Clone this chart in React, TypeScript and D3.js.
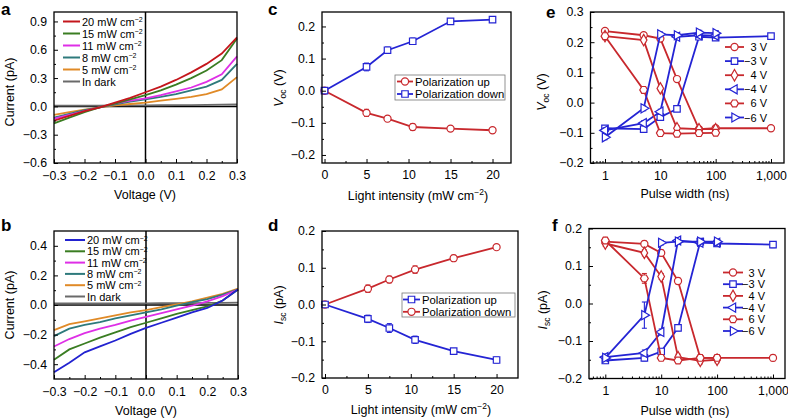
import React, { useEffect, useRef } from 'react'
import * as d3 from 'd3'

const FONT = '"Liberation Sans", Arial, Helvetica, sans-serif'
const RED = '#c8282d'
const BLUE = '#2424d4'

// ---- a, b : I-V curves ----
const voltage = [-0.3, -0.25, -0.2, -0.15, -0.1, -0.05, 0, 0.05, 0.1, 0.15, 0.2, 0.25, 0.3]
const ivLabels = ['20 mW cm', '15 mW cm', '11 mW cm', '8 mW cm', '5 mW cm', 'In dark']

const aI20 = [-0.15, -0.1, -0.05, -0.01, 0.04, 0.09, 0.15, 0.21, 0.28, 0.36, 0.45, 0.56, 0.73]
const aI15 = [-0.18, -0.12, -0.06, -0.01, 0.03, 0.075, 0.12, 0.17, 0.23, 0.3, 0.38, 0.49, 0.72]
const aI11 = [-0.13, -0.09, -0.05, -0.01, 0.03, 0.06, 0.085, 0.12, 0.16, 0.2, 0.26, 0.34, 0.53]
const aI8 = [-0.12, -0.08, -0.04, -0.01, 0.02, 0.05, 0.075, 0.1, 0.13, 0.17, 0.21, 0.28, 0.45]
const aI5 = [-0.09, -0.06, -0.035, -0.01, 0.01, 0.025, 0.04, 0.06, 0.08, 0.1, 0.13, 0.18, 0.31]
const aDark = [0.008, 0.008, 0.009, 0.009, 0.01, 0.01, 0.011, 0.012, 0.013, 0.014, 0.016, 0.018, 0.02]
const colorsA = ['#c4161c', '#3a7d22', '#de2fe6', '#2e7a7c', '#e08a27', '#6a6a6a']

const bI20 = [-0.455, -0.39, -0.32, -0.28, -0.24, -0.195, -0.155, -0.12, -0.085, -0.05, -0.02, 0.03, 0.105]
const bI15 = [-0.37, -0.3, -0.26, -0.22, -0.185, -0.15, -0.12, -0.09, -0.06, -0.035, -0.01, 0.03, 0.105]
const bI11 = [-0.28, -0.23, -0.19, -0.16, -0.135, -0.105, -0.08, -0.055, -0.03, -0.005, 0.025, 0.06, 0.105]
const bI8 = [-0.21, -0.16, -0.135, -0.115, -0.09, -0.07, -0.05, -0.03, -0.005, 0.02, 0.04, 0.07, 0.105]
const bI5 = [-0.17, -0.13, -0.11, -0.09, -0.07, -0.05, -0.035, -0.015, 0.005, 0.025, 0.05, 0.075, 0.11]
const bDark = [0.01, 0.01, 0.01, 0.01, 0.01, 0.011, 0.011, 0.012, 0.012, 0.013, 0.014, 0.015, 0.016]
const colorsB = ['#2222d0', '#3a7d22', '#de2fe6', '#2e7a7c', '#e08a27', '#6a6a6a']

// ---- c, d : vs light intensity ----
const intensity = [0, 5, 7.5, 10.5, 15, 20]
const vocUp = [0, -0.069, -0.087, -0.113, -0.118, -0.123]
const vocUpErr = [0.004, 0.011, 0.009, 0.01, 0.008, 0.008]
const vocDown = [0, 0.074, 0.126, 0.154, 0.216, 0.221]
const vocDownErr = [0.004, 0.012, 0.01, 0.01, 0.007, 0.005]
const iscUp = [0, -0.039, -0.064, -0.096, -0.127, -0.151]
const iscUpErr = [0.003, 0.01, 0.012, 0.01, 0.007, 0.008]
const iscDown = [0, 0.043, 0.068, 0.095, 0.126, 0.156]
const iscDownErr = [0.003, 0.01, 0.009, 0.01, 0.008, 0.005]

// ---- e, f : vs pulse width ----
const pulse = [1, 5, 10, 20, 50, 100, 1000]
const pulseLabels = ['3 V', '\u22123 V', '4 V', '\u22124 V', '6 V', '\u22126 V']
const pulseMarkers = ['circle', 'square', 'diamond', 'triLeft', 'hexagon', 'triRight']
const voc3 = [0.237, 0.223, 0.212, 0.078, -0.088, -0.085, -0.085]
const vocN3 = [-0.085, -0.088, -0.048, -0.021, 0.218, 0.215, 0.22]
const voc4 = [0.22, 0.207, 0.047, -0.085, -0.088, -0.088]
const vocN4 = [-0.092, -0.068, -0.03, 0.218, 0.223, 0.222]
const voc6 = [0.22, 0.042, -0.101, -0.103, -0.101, -0.1]
const vocN6 = [-0.115, -0.019, 0.226, 0.223, 0.232, 0.23]
const isc3 = [0.165, 0.159, 0.135, 0.06, -0.145, -0.145, -0.145]
const iscN3 = [-0.152, -0.145, -0.128, -0.065, 0.165, 0.16, 0.157]
const isc4 = [0.16, 0.135, 0.072, -0.143, -0.153, -0.15]
const iscN4 = [-0.143, -0.132, -0.076, 0.168, 0.162, 0.162]
const isc6 = [0.168, 0.067, -0.145, -0.152, -0.145, -0.145]
const iscN6 = [-0.145, -0.031, 0.162, 0.165, 0.165, 0.165]
const isc6Err = [0.008, 0.013, 0.006, 0.006, 0.006, 0.006]
const iscN6Err = [0.006, 0.035, 0.006, 0.006, 0.006, 0.006]
const pulseErr = 0.008

const hexagon = {
  draw(ctx: any, size: number) {
    const r = Math.sqrt(size / 2.598)
    for (let i = 0; i < 6; i++) {
      const a = (Math.PI / 3) * i
      if (i === 0) ctx.moveTo(r * Math.cos(a), r * Math.sin(a))
      else ctx.lineTo(r * Math.cos(a), r * Math.sin(a))
    }
    ctx.closePath()
  },
}

function marker(g: any, type: string, cx: number, cy: number, color: string) {
  let sym: any = d3.symbolCircle
  let size = 40
  let rot = 0
  if (type === 'square') { sym = d3.symbolSquare; size = 42 }
  if (type === 'diamond') { sym = d3.symbolDiamond; size = 38 }
  if (type === 'triLeft') { sym = d3.symbolTriangle; size = 36; rot = -90 }
  if (type === 'triRight') { sym = d3.symbolTriangle; size = 36; rot = 90 }
  if (type === 'hexagon') { sym = hexagon; size = 40 }
  g.append('path')
    .attr('d', d3.symbol(sym, size)())
    .attr('transform', `translate(${cx},${cy}) rotate(${rot})`)
    .attr('fill', 'white')
    .attr('stroke', color)
    .attr('stroke-width', 1.2)
}

function axes(g: any, x: any, y: any, o: any) {
  const [yb, yt] = y.range()
  const [xl, xr] = x.range()
  const style = (s: any) => {
    s.select('.domain').remove()
    s.attr('font-size', 12.3).attr('font-family', FONT)
  }
  g.append('g').attr('transform', `translate(0,${yb})`)
    .call(d3.axisBottom(x).tickValues(o.xMinor).tickSize(-2).tickFormat(() => ''))
    .call(style)
  g.append('g').attr('transform', `translate(0,${yb})`)
    .call(d3.axisBottom(x).tickValues(o.xTicks).tickSize(-4).tickPadding(o.xPad).tickFormat(o.xFormat))
    .call(style)
  g.append('g').attr('transform', `translate(${xl},0)`)
    .call(d3.axisLeft(y).tickValues(o.yMinor).tickSize(-2).tickFormat(() => ''))
    .call(style)
  g.append('g').attr('transform', `translate(${xl},0)`)
    .call(d3.axisLeft(y).tickValues(o.yTicks).tickSize(-4).tickPadding(7).tickFormat(o.yFormat))
    .call(style)
  g.append('rect')
    .attr('x', xl).attr('y', yt).attr('width', xr - xl).attr('height', yb - yt)
    .attr('fill', 'none').attr('stroke', 'black').attr('stroke-width', 1.3)
}

function xTitle(g: any, cx: number, by: number, main: string, sup?: string, tail?: string) {
  const t = g.append('text').attr('x', cx).attr('y', by).attr('text-anchor', 'middle')
    .attr('font-size', 12.5).attr('font-family', FONT)
  t.append('tspan').text(main)
  if (sup) {
    t.append('tspan').attr('dy', -5).attr('font-size', 8.5).text(sup)
    t.append('tspan').attr('dy', 5).text(tail)
  }
}

function yTitle(g: any, x: number, cy: number, parts: any[]) {
  const t = g.append('text').attr('transform', `translate(${x},${cy}) rotate(-90)`)
    .attr('text-anchor', 'middle').attr('font-size', 12.5).attr('font-family', FONT)
  parts.forEach((p) => {
    const s = t.append('tspan').text(p.text)
    if (p.italic) s.attr('font-style', 'italic')
    if (p.sub) s.attr('font-size', 8.5).attr('dy', 3)
    if (p.back) s.attr('dy', -3)
  })
}

function letter(g: any, x: number, y: number, s: string) {
  g.append('text').attr('x', x).attr('y', y).attr('font-size', 17).attr('font-weight', 'bold')
    .attr('font-family', FONT).text(s)
}

function lineOf(x: any, y: any) {
  return d3.line<[number, number]>().x((d) => x(d[0])).y((d) => y(d[1]))
}

function ivPanel(g: any, x: any, y: any, sets: number[][], colors: string[], leg: any) {
  g.append('line').attr('x1', x(0)).attr('x2', x(0)).attr('y1', y.range()[0]).attr('y2', y.range()[1])
    .attr('stroke', 'black').attr('stroke-width', 1.5)
  g.append('line').attr('x1', x.range()[0]).attr('x2', x.range()[1]).attr('y1', y(0)).attr('y2', y(0))
    .attr('stroke', 'black').attr('stroke-width', 1.5)
  sets.slice().reverse().forEach((vals, j) => {
    const i = sets.length - 1 - j
    g.append('path').datum(vals.map((v, k) => [voltage[k], v]))
      .attr('d', lineOf(x, y)).attr('fill', 'none').attr('stroke', colors[i]).attr('stroke-width', 1.8)
  })
  ivLabels.forEach((lab, i) => {
    const yy = leg.y0 + i * leg.dy
    g.append('line').attr('x1', leg.x0).attr('x2', leg.x1).attr('y1', yy).attr('y2', yy)
      .attr('stroke', colors[i]).attr('stroke-width', 2)
    const t = g.append('text').attr('x', leg.x1 + 2).attr('y', yy + 4).attr('font-size', 11).attr('font-family', FONT)
    t.append('tspan').text(lab)
    if (i < 5) t.append('tspan').attr('dy', -3.5).attr('font-size', 7).text('\u22122')
  })
}

function errorMarks(g: any, x: any, y: any, xs: number[], ys: number[], err: any, color: string, type: string) {
  g.append('path').datum(ys.map((v, k) => [xs[k], v]))
    .attr('d', lineOf(x, y)).attr('fill', 'none').attr('stroke', color).attr('stroke-width', 1.8)
  ys.forEach((v, k) => {
    const e = typeof err === 'number' ? err : err[k]
    const cx = x(xs[k])
    g.append('line').attr('x1', cx).attr('x2', cx).attr('y1', y(v - e)).attr('y2', y(v + e))
      .attr('stroke', color).attr('stroke-width', 1.1)
    ;[v - e, v + e].forEach((w) => {
      g.append('line').attr('x1', cx - 2.5).attr('x2', cx + 2.5).attr('y1', y(w)).attr('y2', y(w))
        .attr('stroke', color).attr('stroke-width', 1.1)
    })
  })
  ys.forEach((v, k) => marker(g, type, x(xs[k]), y(v), color))
}

function boxLegend(g: any, box: any, rows: any[]) {
  g.append('rect').attr('x', box.x).attr('y', box.y).attr('width', box.w).attr('height', box.h)
    .attr('fill', 'white').attr('stroke', '#777').attr('stroke-width', 0.8)
  rows.forEach((r, i) => {
    const yy = box.r0 + i * box.dy
    g.append('line').attr('x1', box.lx0).attr('x2', box.lx1).attr('y1', yy).attr('y2', yy)
      .attr('stroke', r.color).attr('stroke-width', 1.8)
    marker(g, r.type, (box.lx0 + box.lx1) / 2, yy, r.color)
    g.append('text').attr('x', box.lx1 + 2).attr('y', yy + 4).attr('font-size', 11.3)
      .attr('font-family', FONT).text(r.label)
  })
}

function pulseLegend(g: any, leg: any) {
  pulseLabels.forEach((lab, i) => {
    const yy = leg.y0 + i * leg.dy
    const c = i % 2 === 0 ? RED : BLUE
    g.append('line').attr('x1', leg.x0).attr('x2', leg.x1).attr('y1', yy).attr('y2', yy)
      .attr('stroke', c).attr('stroke-width', 1.8)
    marker(g, pulseMarkers[i], (leg.x0 + leg.x1) / 2, yy, c)
    g.append('text').attr('x', leg.tx).attr('y', yy + 4).attr('text-anchor', 'end')
      .attr('font-size', 11).attr('font-family', FONT).text(lab)
  })
}

function logMinor(lo: number, hi: number) {
  const out: number[] = []
  for (let dec = 0.1; dec <= 1000; dec *= 10) {
    for (let m = 2; m <= 9; m++) {
      const v = +(m * dec).toPrecision(3)
      if (v > lo && v < hi) out.push(v)
    }
  }
  return out
}

const App = () => {
  const ref = useRef<SVGSVGElement>(null)

  useEffect(() => {
    const svg = d3.select(ref.current)
    svg.selectAll('*').remove()
    const g = svg.append('g')
    const f1 = d3.format('.1f')

    // a
    const xa = d3.scaleLinear().domain([-0.3, 0.3]).range([54, 237])
    const ya = d3.scaleLinear().domain([-0.6, 1.0]).range([163, 12])
    ivPanel(g, xa, ya, [aI20, aI15, aI11, aI8, aI5, aDark], colorsA, { x0: 63, x1: 80, y0: 21.5, dy: 12 })
    axes(g, xa, ya, {
      xTicks: d3.range(-3, 4).map((d) => d / 10), xMinor: d3.range(-5, 6, 2).map((d) => d / 20), xPad: 8, xFormat: f1,
      yTicks: d3.range(-2, 4).map((d) => d * 0.3), yMinor: d3.range(-3, 6, 2).map((d) => d * 0.15), yFormat: f1,
    })
    yTitle(g, 14, 92, [{ text: 'Current (pA)' }])
    xTitle(g, 145, 199, 'Voltage (V)')
    letter(g, 1, 15, 'a')

    // b
    const xb = d3.scaleLinear().domain([-0.3, 0.3]).range([54, 238])
    const yb = d3.scaleLinear().domain([-0.5, 0.5]).range([379, 231])
    ivPanel(g, xb, yb, [bI20, bI15, bI11, bI8, bI5, bDark], colorsB, { x0: 65, x1: 85, y0: 240, dy: 11.3 })
    axes(g, xb, yb, {
      xTicks: d3.range(-3, 4).map((d) => d / 10), xMinor: d3.range(-5, 6, 2).map((d) => d / 20), xPad: 8, xFormat: f1,
      yTicks: [-0.4, -0.2, 0, 0.2, 0.4], yMinor: [-0.3, -0.1, 0.1, 0.3], yFormat: f1,
    })
    yTitle(g, 14, 305, [{ text: 'Current (pA)' }])
    xTitle(g, 146, 415, 'Voltage (V)')
    letter(g, 1, 231, 'b')

    // c
    const xc = d3.scaleLinear().domain([-0.3, 22.2]).range([322, 511])
    const yc = d3.scaleLinear().domain([-0.225, 0.245]).range([163, 12])
    errorMarks(g, xc, yc, intensity, vocUp, vocUpErr, RED, 'circle')
    errorMarks(g, xc, yc, intensity, vocDown, vocDownErr, BLUE, 'square')
    axes(g, xc, yc, {
      xTicks: [0, 5, 10, 15, 20], xMinor: [2.5, 7.5, 12.5, 17.5], xPad: 7, xFormat: d3.format('d'),
      yTicks: [-0.2, -0.1, 0, 0.1, 0.2], yMinor: [-0.15, -0.05, 0.05, 0.15], yFormat: f1,
    })
    boxLegend(g, { x: 395, y: 75, w: 110, h: 25, r0: 81.5, dy: 12.5, lx0: 397, lx1: 413 }, [
      { label: 'Polarization up', color: RED, type: 'circle' },
      { label: 'Polarization down', color: BLUE, type: 'square' },
    ])
    yTitle(g, 283, 88, [{ text: 'V', italic: true }, { text: 'oc', sub: true }, { text: ' (V)', back: true }])
    xTitle(g, 418, 200, 'Light intensity (mW cm', '\u22122', ')')
    letter(g, 268, 15, 'c')

    // d
    const xd = d3.scaleLinear().domain([-0.35, 22.5]).range([322, 518])
    const yd = d3.scaleLinear().domain([-0.2, 0.2]).range([378, 231])
    errorMarks(g, xd, yd, intensity, iscDown, iscDownErr, RED, 'circle')
    errorMarks(g, xd, yd, intensity, iscUp, iscUpErr, BLUE, 'square')
    axes(g, xd, yd, {
      xTicks: [0, 5, 10, 15, 20], xMinor: [2.5, 7.5, 12.5, 17.5], xPad: 7, xFormat: d3.format('d'),
      yTicks: [-0.2, -0.1, 0, 0.1, 0.2], yMinor: [-0.15, -0.05, 0.05, 0.15], yFormat: f1,
    })
    boxLegend(g, { x: 402, y: 293, w: 113, h: 24, r0: 299.5, dy: 12.3, lx0: 403, lx1: 420 }, [
      { label: 'Polarization up', color: BLUE, type: 'square' },
      { label: 'Polarization down', color: RED, type: 'circle' },
    ])
    yTitle(g, 283, 305, [{ text: 'I', italic: true }, { text: 'sc', sub: true }, { text: ' (pA)', back: true }])
    xTitle(g, 421, 414, 'Light intensity (mW cm', '\u22122', ')')
    letter(g, 268, 231, 'd')

    // e
    const xe = d3.scaleLog().domain([0.547, 1718]).range([590.5, 784])
    const ye = d3.scaleLinear().domain([-0.2, 0.3]).range([163, 12])
    const eSets = [voc3, vocN3, voc4, vocN4, voc6, vocN6]
    eSets.forEach((vals, i) => {
      errorMarks(g, xe, ye, pulse.slice(0, vals.length), vals, pulseErr, i % 2 === 0 ? RED : BLUE, pulseMarkers[i])
    })
    axes(g, xe, ye, {
      xTicks: [1, 10, 100, 1000], xMinor: logMinor(0.547, 1718), xPad: 8, xFormat: d3.format(','),
      yTicks: [-0.2, -0.1, 0, 0.1, 0.2, 0.3], yMinor: [-0.15, -0.05, 0.05, 0.15, 0.25], yFormat: f1,
    })
    pulseLegend(g, { x0: 725, x1: 744, tx: 767, y0: 47, dy: 14.1 })
    yTitle(g, 546, 92, [{ text: 'V', italic: true }, { text: 'oc', sub: true }, { text: ' (V)', back: true }])
    xTitle(g, 685, 198, 'Pulse width (ns)')
    letter(g, 546, 18, 'e')

    // f
    const xf = d3.scaleLog().domain([0.511, 1640]).range([589, 785])
    const yf = d3.scaleLinear().domain([-0.2, 0.2]).range([378.5, 228.5])
    const fSets = [isc3, iscN3, isc4, iscN4, isc6, iscN6]
    fSets.forEach((vals, i) => {
      const err = i === 4 ? isc6Err : i === 5 ? iscN6Err : pulseErr
      errorMarks(g, xf, yf, pulse.slice(0, vals.length), vals, err, i % 2 === 0 ? RED : BLUE, pulseMarkers[i])
    })
    axes(g, xf, yf, {
      xTicks: [1, 10, 100, 1000], xMinor: logMinor(0.511, 1640), xPad: 8, xFormat: d3.format(','),
      yTicks: [-0.2, -0.1, 0, 0.1, 0.2], yMinor: [-0.15, -0.05, 0.05, 0.15], yFormat: f1,
    })
    pulseLegend(g, { x0: 723, x1: 743, tx: 765, y0: 272.5, dy: 11.7 })
    yTitle(g, 547, 310, [{ text: 'I', italic: true }, { text: 'sc', sub: true }, { text: ' (pA)', back: true }])
    xTitle(g, 685, 415, 'Pulse width (ns)')
    letter(g, 552, 231, 'f')
  }, [])

  return (
    <svg ref={ref} width={788} height={418}
      style={{ position: 'absolute', left: 0, top: 0, background: 'white' }} />
  )
}

export default App
